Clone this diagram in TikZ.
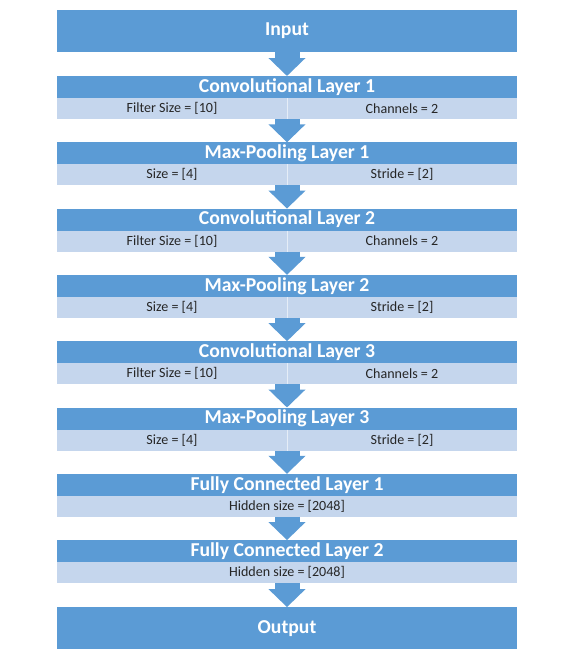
\documentclass[tikz,border=0pt]{standalone}
\usepackage{fontspec}
\setmainfont{Carlito}
\usetikzlibrary{positioning,arrows.meta}
\definecolor{layerblue}{RGB}{91,155,213}
\definecolor{paramblue}{RGB}{197,214,237}
\tikzset{
  layer/.style={fill=layerblue, text=white, minimum width=9.2cm, minimum height=0.44cm,
    inner sep=0pt, outer sep=0pt, font=\fontsize{11.2}{13}\selectfont\bfseries},
  iobox/.style={layer, minimum height=0.84cm},
  params/.style={fill=paramblue, minimum width=9.2cm, minimum height=0.42cm,
    inner sep=0pt, outer sep=0pt},
  param/.style={text=black!85, inner sep=0pt, font=\fontsize{8}{9}\selectfont},
  flow/.style={draw=layerblue, line width=0.5cm, -{Triangle[width=0.72cm,length=0.36cm]}},
  divider/.style={draw=white!55!paramblue, line width=0.5pt}
}
\begin{document}
\begin{tikzpicture}
    \useasboundingbox (0,0) rectangle (11.38,-13.24);

    % input
    \node[iobox] (input) at (5.74,-0.62) {Input};

    % layers
    \node[layer, below=0.48cm of input] (conv1) {Convolutional Layer 1};
    \node[params, below=0pt of conv1] (conv1p) {};
    \node[layer, below=0.466cm of conv1p] (pool1) {Max-Pooling Layer 1};
    \node[params, below=0pt of pool1] (pool1p) {};

    \node[layer, below=0.466cm of pool1p] (conv2) {Convolutional Layer 2};
    \node[params, below=0pt of conv2] (conv2p) {};
    \node[layer, below=0.466cm of conv2p] (pool2) {Max-Pooling Layer 2};
    \node[params, below=0pt of pool2] (pool2p) {};

    \node[layer, below=0.466cm of pool2p] (conv3) {Convolutional Layer 3};
    \node[params, below=0pt of conv3] (conv3p) {};
    \node[layer, below=0.466cm of conv3p] (pool3) {Max-Pooling Layer 3};
    \node[params, below=0pt of pool3] (pool3p) {};

    \node[layer, below=0.466cm of pool3p] (fc1) {Fully Connected Layer 1};
    \node[params, below=0pt of fc1] (fc1p) {};
    \node[layer, below=0.466cm of fc1p] (fc2) {Fully Connected Layer 2};
    \node[params, below=0pt of fc2] (fc2p) {};

    % output
    \node[iobox, below=0.48cm of fc2p] (output) {Output};

    % column dividers
    \draw[divider] (conv1p.north) -- (conv1p.south);
    \draw[divider] (pool1p.north) -- (pool1p.south);
    \draw[divider] (conv2p.north) -- (conv2p.south);
    \draw[divider] (pool2p.north) -- (pool2p.south);
    \draw[divider] (conv3p.north) -- (conv3p.south);
    \draw[divider] (pool3p.north) -- (pool3p.south);

    % parameters
    \node[param] (conv1f) at ([xshift=2.3cm]conv1p.west) {Filter Size = [10]};
    \node[param] (conv1c) at ([xshift=-2.3cm]conv1p.east) {Channels = 2};
    \node[param] (pool1s) at ([xshift=2.3cm]pool1p.west) {Size = [4]};
    \node[param] (pool1t) at ([xshift=-2.3cm]pool1p.east) {Stride = [2]};
    \node[param] (conv2f) at ([xshift=2.3cm]conv2p.west) {Filter Size = [10]};
    \node[param] (conv2c) at ([xshift=-2.3cm]conv2p.east) {Channels = 2};
    \node[param] (pool2s) at ([xshift=2.3cm]pool2p.west) {Size = [4]};
    \node[param] (pool2t) at ([xshift=-2.3cm]pool2p.east) {Stride = [2]};
    \node[param] (conv3f) at ([xshift=2.3cm]conv3p.west) {Filter Size = [10]};
    \node[param] (conv3c) at ([xshift=-2.3cm]conv3p.east) {Channels = 2};
    \node[param] (pool3s) at ([xshift=2.3cm]pool3p.west) {Size = [4]};
    \node[param] (pool3t) at ([xshift=-2.3cm]pool3p.east) {Stride = [2]};
    \node[param] (fc1h) at (fc1p.center) {Hidden size = [2048]};
    \node[param] (fc2h) at (fc2p.center) {Hidden size = [2048]};

    % arrows
    \draw[flow] (input.south) -- (conv1.north);
    \draw[flow] (conv1p.south) -- (pool1.north);
    \draw[flow] (pool1p.south) -- (conv2.north);
    \draw[flow] (conv2p.south) -- (pool2.north);
    \draw[flow] (pool2p.south) -- (conv3.north);
    \draw[flow] (conv3p.south) -- (pool3.north);
    \draw[flow] (pool3p.south) -- (fc1.north);
    \draw[flow] (fc1p.south) -- (fc2.north);
    \draw[flow] (fc2p.south) -- (output.north);

\end{tikzpicture}
\end{document}
